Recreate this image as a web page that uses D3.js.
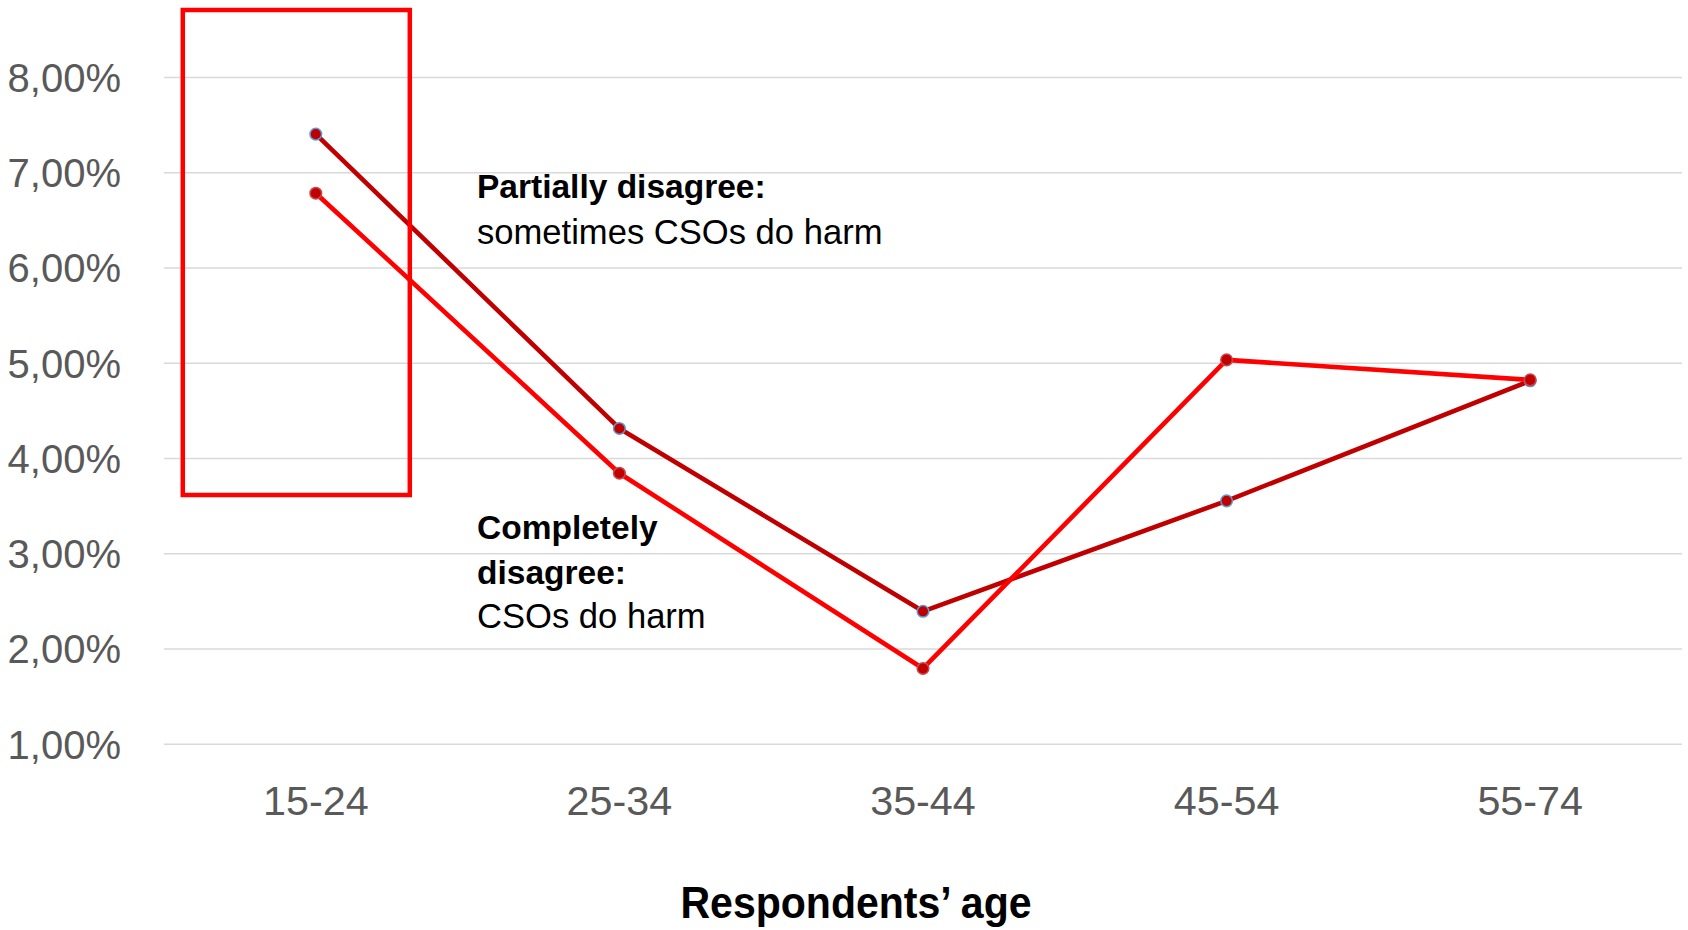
<!DOCTYPE html>
<html>
<head>
<meta charset="utf-8">
<script src="https://cdn.jsdelivr.net/npm/d3@7"></script>
<style>
  html, body { margin: 0; padding: 0; background: #fff; }
  svg { display: block; }
</style>
</head>
<body>
<svg id="chart" width="1688" height="930"></svg>
<script>
// ---- data ----
const categories = ["15-24", "25-34", "35-44", "45-54", "55-74"];
const partiallyDisagree = [7.40, 4.31, 2.39, 3.55, 4.81];   // dark red
const completelyDisagree = [6.78, 3.84, 1.79, 5.03, 4.82];  // bright red
const yTicks = [1, 2, 3, 4, 5, 6, 7, 8];
const xTitle = "Respondents\u2019 age";
const noteTop = [{ text: "Partially disagree:", bold: true }, { text: "sometimes CSOs do harm", bold: false }];
const noteBottom = [{ text: "Completely", bold: true }, { text: "disagree:", bold: true }, { text: "CSOs do harm", bold: false }];
const highlightCategory = "15-24";

(function () {
// ---- layout ----
const svg = d3.select("#chart");
const pLeft = 164, pRight = 1682, pTop = 77, pBottom = 743.7;
const font = "'Liberation Sans', Arial, sans-serif";

const x = d3.scaleBand().domain(categories).range([pLeft, pRight]).padding(0);
const y = d3.scaleLinear().domain([1, 8]).range([pBottom, pTop]);
const fmt = v => d3.format(".2f")(v).replace(".", ",") + "%";

// gridlines
svg.append("g")
  .attr("transform", `translate(${pLeft},0)`)
  .call(d3.axisLeft(y).tickValues(yTicks).tickSize(-(pRight - pLeft)).tickFormat(""))
  .call(g => g.select(".domain").remove())
  .call(g => g.selectAll("line").attr("stroke", "#d9d9d9").attr("stroke-width", 1.6));

// y labels
svg.append("g")
  .attr("transform", `translate(${pLeft},0)`)
  .call(d3.axisLeft(y).tickValues(yTicks).tickSize(0).tickPadding(43).tickFormat(fmt))
  .call(g => g.select(".domain").remove())
  .call(g => g.selectAll("text")
    .attr("fill", "#595959")
    .attr("font-family", font)
    .attr("font-size", 40)
    .attr("dy", "0.36em"));

// x labels
svg.append("g")
  .attr("transform", `translate(0,${pBottom})`)
  .call(d3.axisBottom(x).tickSize(0).tickPadding(42))
  .call(g => g.select(".domain").remove())
  .call(g => g.selectAll("text")
    .attr("fill", "#595959")
    .attr("font-family", font)
    .attr("font-size", 41.3)
    .attr("dy", "0.71em"));

// x title
svg.append("text")
  .attr("x", 856)
  .attr("y", 918)
  .attr("text-anchor", "middle")
  .attr("font-family", font)
  .attr("font-weight", "bold")
  .attr("font-size", 44)
  .attr("textLength", 351)
  .attr("lengthAdjust", "spacingAndGlyphs")
  .attr("fill", "#000")
  .text(xTitle);

// lines
const line = d3.line()
  .x((d, i) => x(categories[i]) + x.bandwidth() / 2)
  .y(d => y(d));

const series = [
  { values: partiallyDisagree, color: "#c00000", markerStroke: "#5b9bd5" },
  { values: completelyDisagree, color: "#ff0000", markerStroke: "#c8474a" }
];

series.forEach(s => {
  svg.append("path")
    .datum(s.values)
    .attr("d", line)
    .attr("fill", "none")
    .attr("stroke", s.color)
    .attr("stroke-width", 4.6)
    .attr("stroke-linejoin", "round");
});
series.forEach(s => {
  svg.append("g").selectAll("circle")
    .data(s.values)
    .join("circle")
    .attr("cx", (d, i) => x(categories[i]) + x.bandwidth() / 2)
    .attr("cy", d => y(d))
    .attr("r", 5.8)
    .attr("fill", "#c00000")
    .attr("stroke", s.markerStroke)
    .attr("stroke-width", 1.5);
});

// highlight rectangle around first category
const hx = x(highlightCategory) + x.bandwidth() / 2;
svg.append("rect")
  .attr("x", hx - 133)
  .attr("y", 10)
  .attr("width", 227)
  .attr("height", 485)
  .attr("fill", "none")
  .attr("stroke", "#ff0000")
  .attr("stroke-width", 4.5);

// annotations
function note(lines, x0, y0, lh) {
  const t = svg.append("text")
    .attr("x", x0).attr("y", y0)
    .attr("font-family", font)
    .attr("fill", "#000");
  lines.forEach((l, i) => {
    t.append("tspan")
      .attr("x", x0)
      .attr("y", y0 + i * lh)
      .attr("font-weight", l.bold ? "bold" : "normal")
      .attr("font-size", l.bold ? 33.5 : 34.6)
      .text(l.text);
  });
}
note(noteTop, 477, 198, 46);
note(noteBottom, 477, 539, 44.5);
})();
</script>
</body>
</html>
